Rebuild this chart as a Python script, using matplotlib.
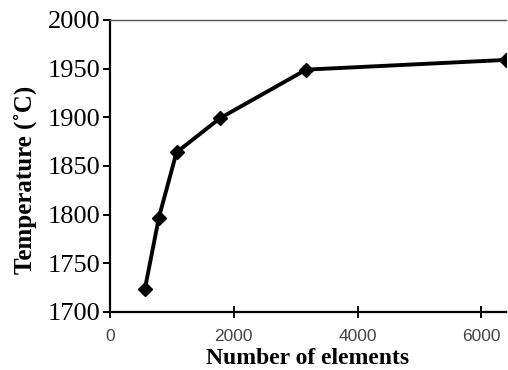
import matplotlib.pyplot as plt

# data
num_elements = [565, 790, 1075, 1775, 3170, 6400]
temperature = [1724, 1797, 1864, 1899, 1949, 1959]

x_ticks = [0, 2000, 4000, 6000]
y_ticks = [1700, 1750, 1800, 1850, 1900, 1950, 2000]

fig = plt.figure(figsize=(5.08, 3.70), dpi=100)
ax = fig.add_axes([110 / 508, 1 - 312 / 370, 396 / 508, 292 / 370])

ax.plot(num_elements, temperature, color='black', linewidth=2.8,
        marker='D', markersize=7.5, markerfacecolor='black')

ax.set_xlim(0, 6400)
ax.set_ylim(1700, 2000)
ax.set_xticks(x_ticks)
ax.set_yticks(y_ticks)

# axis styling
ax.spines['right'].set_visible(False)
ax.spines['top'].set_color('#555555')
ax.spines['top'].set_linewidth(1.0)
ax.spines['left'].set_linewidth(1.6)
ax.spines['bottom'].set_linewidth(1.6)
ax.tick_params(axis='y', direction='out', length=5, width=1.4,
               labelsize=19, pad=2)
ax.tick_params(axis='x', direction='inout', length=8, width=1.4,
               labelsize=12.5, labelcolor='#444444', pad=8)
for lbl in ax.get_yticklabels():
    lbl.set_fontfamily('Liberation Serif')
for lbl in ax.get_xticklabels():
    lbl.set_fontfamily('Liberation Sans')

ax.set_xlabel('Number of elements', fontfamily='Liberation Serif',
              fontweight='bold', fontsize=17, labelpad=3)
ax.set_ylabel('Temperature (˚C)', fontfamily='Liberation Serif',
              fontweight='bold', fontsize=18)
ax.yaxis.set_label_coords(-0.185, 0.452)

plt.savefig('out.png', dpi=100)
